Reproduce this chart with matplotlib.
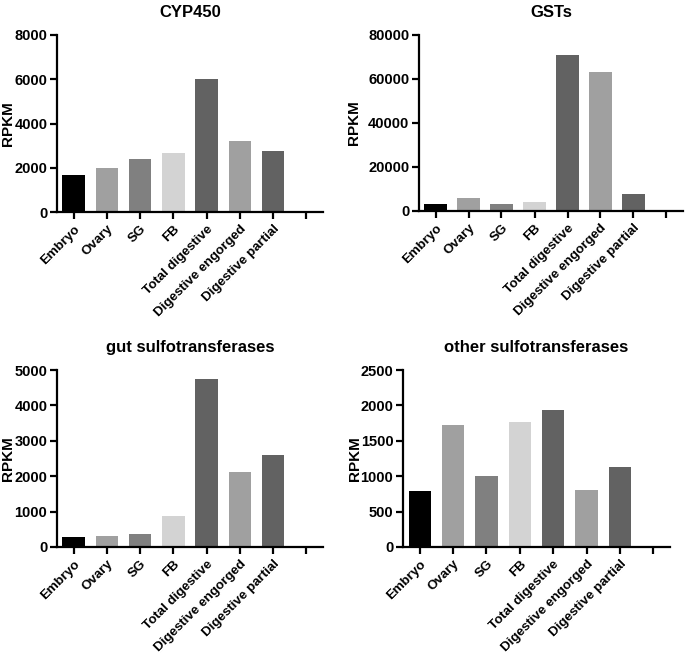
import matplotlib.pyplot as plt

plt.rcParams['font.family'] = ['Liberation Sans', 'DejaVu Sans']
plt.rcParams['font.weight'] = 'bold'

tissues = ['Embryo', 'Ovary', 'SG', 'FB', 'Total digestive',
           'Digestive engorged', 'Digestive partial']
bar_colors = ['#000000', '#a0a0a0', '#808080', '#d3d3d3',
              '#626262', '#a0a0a0', '#626262']

cyp450 = [1670, 1975, 2380, 2650, 6000, 3225, 2760]
gsts = [3000, 6050, 3300, 4250, 70900, 63050, 7850]
gut_sulfo = [290, 320, 360, 885, 4735, 2125, 2610]
other_sulfo = [790, 1730, 1005, 1760, 1935, 800, 1135]

W, H = 685, 655
fig = plt.figure(figsize=(W / 100, H / 100), dpi=100)

# (title, values, ymax, ystep, left, top, right, bottom, ylabel x) in pixels
panels = [
    ('CYP450', cyp450, 8000, 2000, 57, 35, 323, 212, 8),
    ('GSTs', gsts, 80000, 20000, 419, 35, 683, 211, 354),
    ('gut sulfotransferases', gut_sulfo, 5000, 1000, 57, 370, 323, 547, 8),
    ('other sulfotransferases', other_sulfo, 2500, 500, 403, 370, 670, 547, 355),
]

for title, vals, ymax, ystep, l, t, r, b, lx in panels:
    ax = fig.add_axes([l / W, 1 - b / H, (r - l) / W, (b - t) / H])
    x = list(range(1, len(vals) + 1))
    ax.bar(x, vals, width=0.67, color=bar_colors, edgecolor='none')
    ax.set_xlim(0.5, 8.5)
    ax.set_ylim(0, ymax)
    ax.set_yticks(range(0, ymax + 1, ystep))
    ax.set_xticks(range(1, 9))
    ax.set_xticklabels(tissues + [''], rotation=45, ha='right',
                       rotation_mode='anchor', fontsize=9.6, fontweight='bold')
    for lab in ax.get_yticklabels():
        lab.set_fontsize(10.5)
        lab.set_fontweight('bold')
    ax.spines['top'].set_visible(False)
    ax.spines['right'].set_visible(False)
    ax.spines['left'].set_linewidth(1.6)
    ax.spines['bottom'].set_linewidth(1.6)
    ax.tick_params(width=1.6, length=5, pad=2)
    ax.tick_params(axis='x', pad=3)
    ax.set_ylabel('RPKM', fontsize=11, fontweight='bold')
    ax.yaxis.set_label_coords((lx - l) / (r - l), 0.5)
    ax.yaxis.label.set_va('center')
    ax.set_title(title, fontsize=12, fontweight='bold', pad=13)

fig.savefig('out.png', dpi=100)
